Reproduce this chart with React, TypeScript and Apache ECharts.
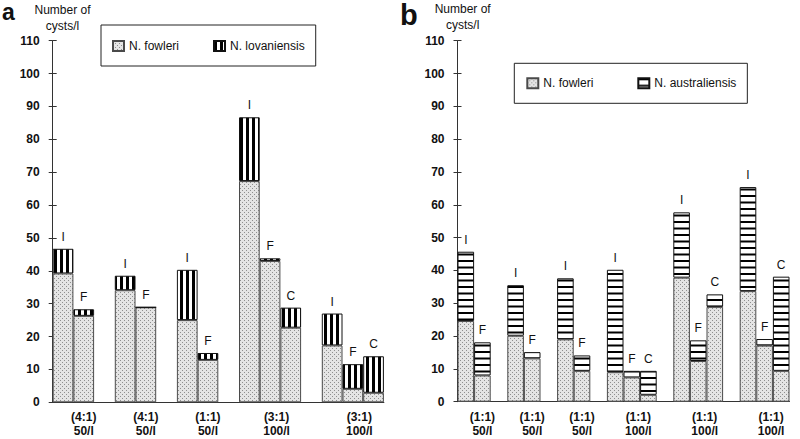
import React, { useEffect, useRef } from "react";
import * as echarts from "echarts";

// ---------- Data ----------
const yMin = 0;
const yMax = 110;
const yInterval = 10;

const aGroupLabels = ["(4:1)\n50/l", "(4:1)\n50/l", "(1:1)\n50/l", "(3:1)\n100/l", "(3:1)\n100/l"];
const aBarLabels = [["I", "F"], ["I", "F"], ["I", "F"], ["I", "F", "C"], ["I", "F", "C"]];
const aFowleri = [[39.2, 26.3], [34.1, 28.9], [25.0, 12.9], [67.3, 43.0, 22.7], [17.3, 4.1, 2.9]];
const aLovaniensis = [[7.5, 2.0], [4.4, 0], [15.3, 2.1], [19.4, 0.8, 6.1], [9.7, 7.5, 11.1]];

const bGroupLabels = ["(1:1)\n50/l", "(1:1)\n50/l", "(1:1)\n50/l", "(1:1)\n100/l", "(1:1)\n100/l", "(1:1)\n100/l"];
const bBarLabels = [["I", "F"], ["I", "F"], ["I", "F"], ["I", "F", "C"], ["I", "F", "C"], ["I", "F", "C"]];
const bFowleri = [[24.6, 8.0], [20.1, 13.2], [19.0, 9.4], [9.0, 7.4, 2.1], [37.8, 12.4, 28.9], [33.7, 17.1, 9.4]];
const bAustraliensis = [[21.1, 10.1], [15.4, 1.9], [18.6, 4.7], [31.2, 2.0, 7.3], [19.9, 6.3, 3.8], [31.7, 2.0, 28.7]];

const yAxisTitle = ["Number of", "cysts/l"];

// ---------- Helpers ----------
type Slots = {
  cats: string[];
  axisText: ({ text: string; shift: boolean } | null)[];
  letters: string[];
  lo: (number | string)[];
  up: (number | string)[];
};

function buildSlots(groupLabels: string[], barLabels: string[][], lower: number[][], upper: number[][]): Slots {
  const s: Slots = { cats: [], axisText: [], letters: [], lo: [], up: [] };
  groupLabels.forEach((g, gi) => {
    const n = barLabels[gi].length;
    barLabels[gi].forEach((l, bi) => {
      s.cats.push("s" + s.cats.length);
      s.axisText.push(bi === 1 ? { text: g, shift: n === 3 } : null);
      s.letters.push(l);
      s.lo.push(lower[gi][bi]);
      s.up.push(upper[gi][bi]);
    });
    if (gi < groupLabels.length - 1) {
      s.cats.push("s" + s.cats.length);
      s.axisText.push(null);
      s.letters.push("");
      s.lo.push("-");
      s.up.push("-");
    }
  });
  return s;
}

function makeTile(w: number, h: number, draw: (ctx: CanvasRenderingContext2D) => void) {
  const c = document.createElement("canvas");
  c.width = w;
  c.height = h;
  const ctx = c.getContext("2d")!;
  draw(ctx);
  return c;
}

export default function App() {
  const ref = useRef<HTMLDivElement>(null);

  useEffect(() => {
    if (!ref.current) return;
    const chart = echarts.init(ref.current, undefined, { renderer: "svg" });

    const dotTile = makeTile(4, 4, (ctx) => {
      ctx.fillStyle = "#e4e4e4";
      ctx.fillRect(0, 0, 4, 4);
      ctx.fillStyle = "#8e8e8e";
      ctx.fillRect(0, 0, 1, 1);
      ctx.fillRect(2, 2, 1, 1);
    });
    const vTile = makeTile(6, 4, (ctx) => {
      ctx.fillStyle = "#ffffff";
      ctx.fillRect(0, 0, 6, 4);
      ctx.fillStyle = "#000000";
      ctx.fillRect(0, 0, 3, 4);
    });
    const hTile = makeTile(4, 13, (ctx) => {
      ctx.fillStyle = "#ffffff";
      ctx.fillRect(0, 0, 4, 13);
      ctx.fillStyle = "#000000";
      ctx.fillRect(0, 0, 4, 2);
      ctx.fillRect(0, 6.5, 4, 2);
    });
    const dotPattern: any = { image: dotTile, repeat: "repeat", imageWidth: 4, imageHeight: 4 };
    const vPattern: any = { image: vTile, repeat: "repeat", imageWidth: 6, imageHeight: 4 };
    const hPattern: any = { image: hTile, repeat: "repeat", imageWidth: 4, imageHeight: 13 };

    const A = buildSlots(aGroupLabels, aBarLabels, aFowleri, aLovaniensis);
    const B = buildSlots(bGroupLabels, bBarLabels, bFowleri, bAustraliensis);

    const font = "'Liberation Sans', Arial, Helvetica, sans-serif";
    const ink = "#111";

    const xAxisFor = (S: Slots, gridIndex: number, margin: number) => ({
      type: "category",
      gridIndex,
      data: S.cats,
      axisLine: { show: true, lineStyle: { color: "#333", width: 1 } },
      axisTick: { show: false },
      axisLabel: {
        interval: 0,
        margin,
        formatter: (_v: string, i: number) => {
          const t = S.axisText[i];
          if (!t) return "";
          const k = t.shift ? "s" : "n";
          return t.text
            .split("\n")
            .map((l) => `{${k}|${l}}`)
            .join("\n");
        },
        rich: {
          n: { fontSize: 12, fontWeight: "bold", lineHeight: 14, color: ink, fontFamily: font },
          s: { fontSize: 12, fontWeight: "bold", lineHeight: 14, color: ink, fontFamily: font, padding: [0, 0, 0, 13] },
        },
      },
      splitLine: { show: false },
    });

    const yMain = (gridIndex: number) => ({
      type: "value",
      gridIndex,
      position: "left",
      min: yMin,
      max: yMax,
      interval: yInterval,
      axisLine: { show: true, lineStyle: { color: "#333", width: 1 } },
      axisTick: { show: true, length: 4, lineStyle: { color: "#333" } },
      axisLabel: { margin: 13, fontSize: 12, fontWeight: "bold", color: ink, fontFamily: font },
      splitLine: { show: false },
    });
    const yInside = (gridIndex: number) => ({
      type: "value",
      gridIndex,
      position: "left",
      min: yMin,
      max: yMax,
      interval: yInterval,
      axisLine: { show: false },
      axisTick: { show: true, inside: true, length: 4, lineStyle: { color: "#333" } },
      axisLabel: { show: false },
      splitLine: { show: false },
    });

    const barBase = {
      type: "bar",
      barCategoryGap: "0%",
      barGap: "0%",
    };
    const lowBorder = { borderColor: "#4a4a4a", borderWidth: 1 };
    const upBorder = { borderColor: "#111", borderWidth: 1 };
    const letterLabel = (S: Slots) => ({
      show: true,
      position: "top",
      distance: 6,
      fontSize: 12,
      fontWeight: "normal",
      color: ink,
      fontFamily: font,
      formatter: (p: any) => S.letters[p.dataIndex],
    });

    const textEl = (text: string, x: number, y: number, size: number, weight: string, align = "center") => ({
      type: "text",
      x,
      y,
      silent: true,
      style: {
        text,
        fontSize: size,
        fontWeight: weight,
        fontFamily: font,
        fill: ink,
        textAlign: align,
        textVerticalAlign: "middle",
      },
    });

    const legendBase = {
      orient: "horizontal",
      icon: "rect",
      itemWidth: 11,
      itemHeight: 10,
      backgroundColor: "#fff",
      borderColor: "#222",
      borderWidth: 1,
      borderRadius: 0,
      selectedMode: false,
      textStyle: { fontSize: 12, color: ink, fontFamily: font },
    };

    const option: any = {
      animation: false,
      backgroundColor: "#ffffff",
      textStyle: { fontFamily: font },
      grid: [
        { left: 52.7, top: 40.7, width: 331.2, height: 361.6 },
        { left: 457.5, top: 40.7, width: 332, height: 361 },
      ],
      xAxis: [xAxisFor(A, 0, 7.5), xAxisFor(B, 1, 8)],
      yAxis: [yMain(0), yInside(0), yMain(1), yInside(1)],
      legend: [
        {
          ...legendBase,
          left: 101,
          top: 25,
          padding: [15, 11, 14, 11],
          itemGap: 34,
          data: ["N. fowleri", "N. lovaniensis"],
        },
        {
          ...legendBase,
          left: 514.3,
          top: 63.3,
          padding: [14, 11, 14, 12],
          itemGap: 44,
          data: ["N. fowleri", "N. australiensis"],
        },
      ],
      series: [
        {
          ...barBase,
          name: "N. fowleri",
          xAxisIndex: 0,
          yAxisIndex: 0,
          stack: "a",
          data: A.lo,
          itemStyle: { color: dotPattern, ...lowBorder },
        },
        {
          ...barBase,
          name: "N. lovaniensis",
          xAxisIndex: 0,
          yAxisIndex: 0,
          stack: "a",
          data: A.up,
          itemStyle: { color: vPattern, ...upBorder },
          label: letterLabel(A),
        },
        {
          ...barBase,
          name: "N. fowleri",
          xAxisIndex: 1,
          yAxisIndex: 2,
          stack: "b",
          data: B.lo,
          itemStyle: { color: dotPattern, ...lowBorder },
        },
        {
          ...barBase,
          name: "N. australiensis",
          xAxisIndex: 1,
          yAxisIndex: 2,
          stack: "b",
          data: B.up,
          itemStyle: { color: hPattern, ...upBorder },
          label: letterLabel(B),
        },
      ],
      graphic: [
        textEl("a", 2, 12, 23, "bold", "left"),
        textEl(yAxisTitle[0], 62.5, 10, 12, "normal"),
        textEl(yAxisTitle[1], 62.5, 26, 12, "normal"),
        textEl("b", 400, 15, 29, "bold", "left"),
        textEl(yAxisTitle[0], 462.7, 9, 12, "normal"),
        textEl(yAxisTitle[1], 462.7, 25, 12, "normal"),
      ],
    };

    chart.setOption(option);
    return () => chart.dispose();
  }, []);

  return (
    <div
      ref={ref}
      style={{ position: "absolute", left: 0, top: 0, width: 800, height: 439, background: "#fff" }}
    />
  );
}
